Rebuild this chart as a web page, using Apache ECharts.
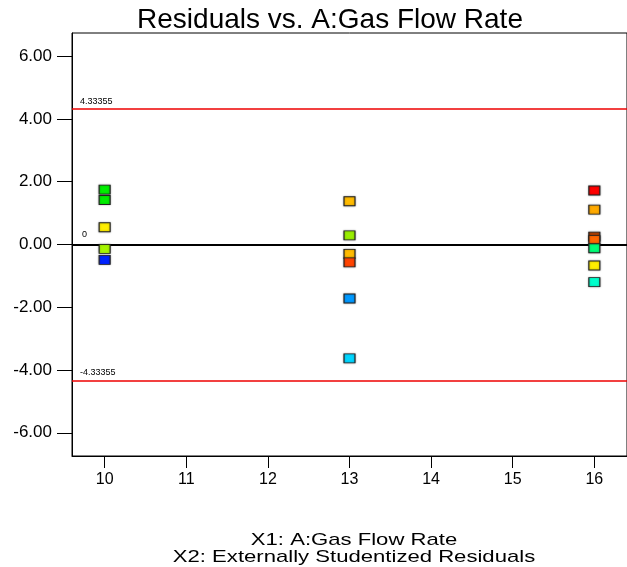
<!DOCTYPE html>
<html><head><meta charset="utf-8">
<script src="https://cdn.jsdelivr.net/npm/echarts@6/dist/echarts.min.js"></script>
<style>html,body{margin:0;padding:0;background:#fff}#c{width:627px;height:567px}</style>
</head><body><div id="c"></div>
<script>
const chartTitle = 'Residuals vs. A:Gas Flow Rate';
const xName = 'X1: A:Gas Flow Rate';
const yName = 'X2: Externally Studentized Residuals';
const xTicks = [10, 11, 12, 13, 14, 15, 16];
const yTicks = [-6, -4, -2, 0, 2, 4, 6];
const gasFlow = [10, 10, 10, 10, 10, 13, 13, 13, 13, 13, 13, 16, 16, 16, 16, 16, 16, 16];
const residuals = [1.75, 1.42, 0.55, -0.14, -0.49, 1.38, 0.29, -0.30, -0.57, -1.72, -3.63, 1.72, 1.11, 0.25, 0.14, -0.12, -0.67, -1.20];
const pointColors = ['#00ee00', '#00ee00', '#ffee00', '#a6f500', '#0022ff', '#ffbb00', '#99ee00', '#ffbb00', '#ff4400', '#0099ff', '#00d5ff', '#ff0000', '#ffaa00', '#b04000', '#ff6600', '#00ff77', '#ffee00', '#00ffcc'];
const upperLimit = 4.33355;
const lowerLimit = -4.33355;
const zeroLine = 0;

const font = 'Liberation Sans, Arial, sans-serif';
const pts = gasFlow.map((x, i) => ({ value: [x, residuals[i]], itemStyle: { color: pointColors[i] } }));

const chart = echarts.init(document.getElementById('c'));
chart.setOption({
  animation: false,
  title: { text: chartTitle, left: 325, textAlign: 'center', top: 1,
    textStyle: { fontFamily: font, fontSize: 28, fontWeight: 'normal', color: '#000' } },
  grid: { left: 72, top: 33, right: -12, bottom: 111, show: true, borderColor: '#000', borderWidth: 1 },
  xAxis: { type: 'value', min: 9.6, max: 16.4,
    axisLine: { show: true, onZero: false, lineStyle: { color: '#000', width: 1 } },
    axisTick: { show: true, customValues: xTicks, length: 12, lineStyle: { color: '#000' } },
    axisLabel: { customValues: xTicks, fontFamily: font, fontSize: 16, color: '#000', margin: 16 },
    splitLine: { show: false } },
  yAxis: { type: 'value', min: -6.74, max: 6.74,
    axisLine: { show: true, onZero: false, lineStyle: { color: '#000', width: 1 } },
    axisTick: { show: true, customValues: yTicks, length: 15, lineStyle: { color: '#000' } },
    axisLabel: { customValues: yTicks, formatter: v => v.toFixed(2), fontFamily: font, fontSize: 17, color: '#000', margin: 20 },
    splitLine: { show: false } },
  graphic: [
    { type: 'text', x: 354, y: 540, scaleX: 1.3, style: { text: xName, font: '17px ' + font, fill: '#000', textAlign: 'center', textVerticalAlign: 'middle' } },
    { type: 'text', x: 354, y: 557, scaleX: 1.3, style: { text: yName, font: '17px ' + font, fill: '#000', textAlign: 'center', textVerticalAlign: 'middle' } }
  ],
  series: [{
    type: 'scatter', symbol: 'rect', symbolSize: [11, 9], data: pts, z: 5,
    itemStyle: { opacity: 1, borderColor: '#222', borderWidth: 1, shadowColor: 'rgba(0,0,0,0.35)', shadowBlur: 2 },
    markLine: { silent: true, symbol: ['none', 'none'], z: 3,
      label: { position: 'insideStartTop', fontFamily: font, fontSize: 9, color: '#000', distance: [8, 3] },
      data: [
        { yAxis: upperLimit, lineStyle: { color: '#ee0000', width: 1.5, type: 'solid' }, label: { formatter: String(upperLimit) } },
        { yAxis: lowerLimit, lineStyle: { color: '#ee0000', width: 1.5, type: 'solid' }, label: { formatter: String(lowerLimit) } },
        { yAxis: zeroLine, lineStyle: { color: '#000', width: 2, type: 'solid' }, label: { formatter: String(zeroLine), distance: [10, 5] } }
      ] }
  }]
});
</script></body></html>
